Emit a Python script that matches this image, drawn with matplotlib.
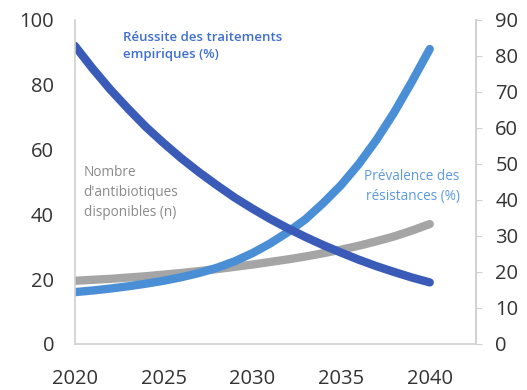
import matplotlib
matplotlib.use("Agg")
import matplotlib.pyplot as plt

# données
annees = list(range(2020, 2041))
reussite = [92, 85, 78.5, 72.6, 67, 62, 57.3, 53, 49, 45.2, 41.8,
            38.6, 35.7, 33, 30.5, 28.2, 26, 24, 22.2, 20.5, 19]
prevalence = [16, 16.5, 17.1, 17.8, 18.6, 19.5, 20.6, 21.9, 23.5, 25.5, 28,
              31, 34.5, 38.5, 43.5, 49, 55.5, 63, 71.5, 81, 91]
nombre = [19.5, 19.8, 20.1, 20.5, 20.9, 21.4, 21.9, 22.5, 23.1, 23.8, 24.5,
          25.3, 26.1, 27, 28, 29.1, 30.3, 31.7, 33.2, 35, 37]
xticks = [2020, 2025, 2030, 2035, 2040]
yticks_g = [0, 20, 40, 60, 80, 100]
yticks_d = list(range(0, 100, 10))

plt.rcParams['font.family'] = ['Open Sans', 'DejaVu Sans']

fig = plt.figure(figsize=(5.27, 3.90), dpi=100)
ax = fig.add_axes([0.142, 0.118, 0.761, 0.831])

ax.plot(annees, nombre, color='#a5a5a5', lw=6, solid_capstyle='round')
ax.plot(annees, prevalence, color='#4a8fd6', lw=6, solid_capstyle='round')
ax.plot(annees, reussite, color='#3a5bb8', lw=6, solid_capstyle='round')

ax.set_xlim(2020, 2042.6)
ax.set_ylim(0, 100)
ax.set_xticks(xticks)
ax.set_yticks(yticks_g)
ax.tick_params(axis='both', length=0, labelsize=14.5, colors='#333333')
ax.tick_params(axis='x', pad=18)
ax.tick_params(axis='y', pad=15)
ax.spines['top'].set_visible(False)
for s in ['left', 'bottom', 'right']:
    ax.spines[s].set_color('#d0d0d0')
    ax.spines[s].set_linewidth(1.2)

ax2 = ax.twinx()
ax2.set_ylim(0, 90)
ax2.set_yticks(yticks_d)
ax2.tick_params(axis='y', direction='out', length=4, color='#d0d0d0',
                labelsize=14.5, labelcolor='#333333', pad=10)
for s in ['top', 'left', 'bottom']:
    ax2.spines[s].set_visible(False)
ax2.spines['right'].set_color('#d0d0d0')
ax2.spines['right'].set_linewidth(1.2)

ax.text(0.12, 0.966, "Réussite des traitements\nempiriques (%)", transform=ax.transAxes,
        fontsize=9.5, color='#3f6fcf', fontweight='semibold', va='top', ha='left', linespacing=1.45)
ax.text(0.96, 0.54, "Prévalence des\nrésistances (%)", transform=ax.transAxes,
        fontsize=9.8, color='#5b9ae0', va='top', ha='right', linespacing=1.45)
ax.text(0.022, 0.552, "Nombre\nd'antibiotiques\ndisponibles (n)", transform=ax.transAxes,
        fontsize=9.8, color='#8a8a8a', va='top', ha='left', linespacing=1.45)

fig.savefig('out.png', dpi=100)
